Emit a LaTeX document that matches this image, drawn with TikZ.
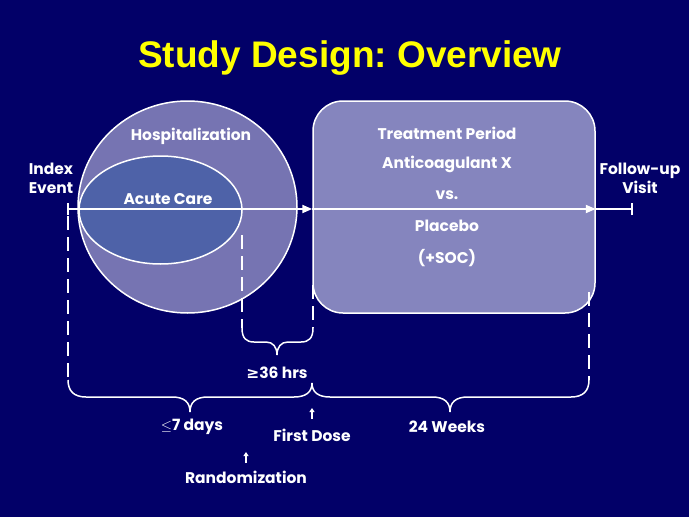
\documentclass[tikz,border=0pt]{standalone}
\usepackage{fontspec}
\setmainfont{Poppins}
\newfontfamily\titlefont{Liberation Sans}
\newfontfamily\symfont{DejaVu Sans}
\usetikzlibrary{arrows.meta,shapes.geometric}
\definecolor{bg}{RGB}{2,0,104}
\definecolor{hospc}{RGB}{118,116,178}
\definecolor{acutec}{RGB}{78,98,168}
\definecolor{boxc}{RGB}{133,133,190}
\definecolor{ttl}{RGB}{255,255,0}
\frenchspacing
\begin{document}
\begin{tikzpicture}[x=1pt,y=-1pt,
  lbl/.style={text=white,font=\bfseries\fontsize{15.5}{17}\selectfont,inner sep=0pt,align=center},
  outl/.style={draw=white,line width=1.5pt},
  tline/.style={draw=white,line width=2pt},
  dsh/.style={draw=white,line width=1.5pt,dash pattern=on 14pt off 7pt},
  brc/.style={draw=white,line width=1.5pt},
  uparr/.style={draw=white,line width=1.2pt,-{Triangle[length=4pt,width=5pt]}}]
\fill[bg] (0,0) rectangle (689,517);
\useasboundingbox (0,0) rectangle (689,517);
% title
\node[text=ttl,font=\titlefont\bfseries\fontsize{37}{42}\selectfont,inner sep=0pt] (title) at (350,58) {Study Design: Overview};
% shapes
\node[ellipse,outl,fill=hospc,minimum width=219pt,minimum height=212pt,inner sep=0pt] (hosp) at (187.5,207) {};
\node[ellipse,outl,fill=acutec,minimum width=163pt,minimum height=108pt,inner sep=0pt] (acute) at (160.5,210) {};
\node[rectangle,rounded corners=30pt,outl,fill=boxc,minimum width=282pt,minimum height=212pt,inner sep=0pt] (box) at (454,207) {};
% labels in shapes
\node[lbl] (lhosp) at (191,136) {Hospitalization};
\node[lbl] (lacute) at (168,199) {Acute Care};
\node[lbl] (t1) at (447,133) {Treatment Period};
\node[lbl] (t2) at (447,164) {Anticoagulant X};
\node[lbl] (t3) at (447,195) {vs.};
\node[lbl] (t4) at (447,226) {Placebo};
\node[lbl] (t5) at (447,258) {(+SOC)};
\node[lbl] (idxl) at (51,178) {Index\\[2pt]Event};
\node[lbl] (ful) at (640,178) {Follow-up\\[2pt]Visit};
% timeline
\coordinate (idx) at (68,209);
\coordinate (fu) at (632,209);
\draw[tline,-{Triangle[length=10pt,width=8pt]}] (idx) -- (idx -| box.west);
\draw[tline,-{Triangle[length=10pt,width=8pt]}] (idx -| box.west) -- (idx -| box.east);
\draw[tline] (idx -| box.east) -- (fu);
\draw[white,line width=1.5pt] ([yshift=-6pt]idx) -- ([yshift=6pt]idx);
\draw[white,line width=1.5pt] ([yshift=-6pt]fu) -- ([yshift=6pt]fu);
% dashed guides
\coordinate (d1a) at (68,216); \coordinate (d1b) at (68,380);
\coordinate (d2a) at (242,235); \coordinate (d2b) at (242,328);
\coordinate (d3a) at (313,285); \coordinate (d3b) at (313,328);
\coordinate (d4a) at (589,292); \coordinate (d4b) at (589,380);
\draw[dsh] (d1a) -- (d1b);
\draw[dsh] (d2a) -- (d2b);
\draw[dsh] (d3a) -- (d3b);
\draw[dsh] (d4a) -- (d4b);
% small brace
\draw[brc] (d2b) .. controls (242,338) and (246,342) .. (254,342) -- (266,342)
  .. controls (273,342) and (277,347) .. (277,355)
  .. controls (277,347) and (281,342) .. (288,342) -- (301,342)
  .. controls (309,342) and (313,338) .. (d3b);
% big brace
\draw[brc] (d1b) .. controls (68,391) and (74,397) .. (86,397) -- (172,397)
  .. controls (184,397) and (190,402) .. (190,412)
  .. controls (190,402) and (196,397) .. (208,397) -- (294,397)
  .. controls (306,397) and (312,392) .. (312,383)
  .. controls (312,392) and (318,397) .. (330,397) -- (432,397)
  .. controls (444,397) and (450,402) .. (450,412)
  .. controls (450,402) and (456,397) .. (468,397) -- (571,397)
  .. controls (583,397) and (589,391) .. (d4b);
% bottom labels
\node[lbl] (hrs) at (277,373) {{\symfont ≥}36 hrs};
\node[lbl] (days) at (192,427) {$\leq$7 days};
\node[lbl] (weeks) at (447,427) {24 Weeks};
\node[lbl] (dose) at (312,435) {First Dose};
\node[lbl] (rand) at (246,477) {Randomization};
\coordinate (a1) at (312,408);
\coordinate (a2) at (246,452);
\draw[uparr] (dose.north |- 0,419) -- (a1);
\draw[uparr] (rand.north |- 0,463) -- (a2);
\end{tikzpicture}
\end{document}
